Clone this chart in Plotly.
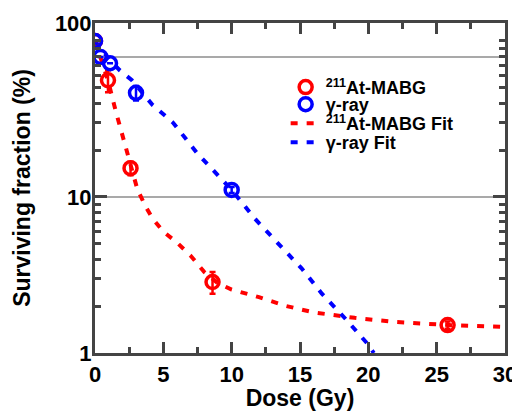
import plotly.graph_objects as go

# ---- data ----
mabg_dose = [0.0, 0.95, 2.6, 8.6, 25.8]
mabg_sf = [100, 56, 15.3, 2.85, 1.51]
mabg_err = [0, 9, 1.5, 0.45, 0.08]

gamma_dose = [0.0, 0.4, 1.1, 3.0, 10.0]
gamma_sf = [100, 79, 72, 46.5, 11.1]
gamma_err = [0, 0, 0, 5, 0.5]

mabg_fit_dose = [0, 0.5, 0.95, 1.5, 2.0, 2.6, 3.1, 3.7, 4.2, 5.0, 6.0, 7.0, 8.0,
                 9.0, 10, 12, 14, 16, 19, 22, 26, 30]
mabg_fit_sf = [100, 75, 56, 36, 25, 15.3, 11.2, 8.7, 7.3, 6.0, 5.1, 4.2, 3.3,
               2.8, 2.55, 2.28, 2.0, 1.82, 1.68, 1.58, 1.51, 1.47]

gamma_fit_dose = [0, 1.0, 1.8, 2.7, 4.2, 5.7, 7.5, 10, 11.8, 13.3, 15.1, 16.6,
                  18.4, 20.0, 20.4]
gamma_fit_sf = [100, 77, 65, 56, 39, 30, 19, 11.1, 7.1, 5.1, 3.5, 2.4,
                1.63, 1.13, 1.0]

ref_lines = [79, 10]

y_top = 130.4
y_tick_vals = [1, 10, y_top]
y_tick_text = ["1", "10", "100"]

RED = "#ff0000"
BLUE = "#0000ff"
INK = "#444444"
FONT = "Liberation Sans, Arial, sans-serif"

fig = go.Figure()

fig.add_trace(go.Scatter(
    x=mabg_fit_dose, y=mabg_fit_sf, mode="lines",
    line=dict(color=RED, width=4, dash="7px,9px"),
    name="<sup>211</sup>At-MABG Fit", legend="legend3", showlegend=True))
fig.add_trace(go.Scatter(
    x=gamma_fit_dose, y=gamma_fit_sf, mode="lines",
    line=dict(color=BLUE, width=4, dash="7px,9px"),
    name="γ-ray Fit", legend="legend4", showlegend=True))
fig.add_trace(go.Scatter(
    x=mabg_dose, y=mabg_sf, mode="markers",
    marker=dict(symbol="circle-open", size=13, color=RED, line=dict(width=3.5, color=RED)),
    error_y=dict(type="data", array=mabg_err, color=RED, thickness=2.5, width=3),
    name="<sup>211</sup>At-MABG", legend="legend", showlegend=True))
fig.add_trace(go.Scatter(
    x=gamma_dose, y=gamma_sf, mode="markers",
    marker=dict(symbol="circle-open", size=13, color=BLUE, line=dict(width=3.5, color=BLUE)),
    error_y=dict(type="data", array=gamma_err, color=BLUE, thickness=2.5, width=3),
    name="γ-ray", legend="legend2", showlegend=True))

for v in ref_lines:
    fig.add_shape(type="line", xref="paper", x0=0, x1=1, yref="y", y0=v, y1=v,
                  line=dict(color="#8c8c8c", width=1.5), layer="below")

leg_font = dict(family=FONT, size=18, color="black", weight="bold")
leg_common = dict(xanchor="left", yanchor="middle", bgcolor="rgba(0,0,0,0)",
                  borderwidth=0, font=leg_font)
legend_x = 0.465

fig.update_layout(
    width=512, height=403,
    margin=dict(l=87, r=15, t=15, b=58),
    paper_bgcolor="white", plot_bgcolor="rgba(0,0,0,0)",
    font=dict(family=FONT, color="black"),
    showlegend=True,
    legend=dict(x=legend_x, y=0.805, **leg_common),
    legend2=dict(x=legend_x, y=0.753, **leg_common),
    legend3=dict(x=legend_x, y=0.695, **leg_common),
    legend4=dict(x=legend_x, y=0.638, **leg_common),
    xaxis=dict(
        range=[0, 30], tickmode="linear", tick0=0, dtick=5, automargin=False,
        ticks="inside", ticklen=11, tickwidth=3, tickcolor=INK,
        showline=True, linewidth=3, linecolor=INK, mirror="allticks",
        showgrid=False, zeroline=False, layer="above traces",
        minor=dict(ticks="inside", ticklen=6, tickwidth=3, tickcolor=INK, dtick=2.5, showgrid=False),
        tickfont=dict(family=FONT, size=22, color="black", weight="bold"),
        title=dict(text="Dose (Gy)", standoff=4,
                   font=dict(family=FONT, size=23, color="black", weight="bold")),
    ),
    yaxis=dict(
        type="log", range=[0, 2.1153], automargin=False,
        tickmode="array", tickvals=y_tick_vals, ticktext=y_tick_text,
        ticks="inside", ticklen=12, tickwidth=3, tickcolor=INK,
        showline=True, linewidth=3, linecolor=INK, mirror="allticks",
        showgrid=False, zeroline=False, layer="above traces",
        minor=dict(ticks="inside", ticklen=6, tickwidth=3, tickcolor=INK, dtick="D1", showgrid=False),
        ticklabelstandoff=-4,
        tickfont=dict(family=FONT, size=22, color="black", weight="bold"),
        title=dict(text="Surviving fraction (%)", standoff=18,
                   font=dict(family=FONT, size=23, color="black", weight="bold")),
    ),
)

fig.write_html("out.html")
